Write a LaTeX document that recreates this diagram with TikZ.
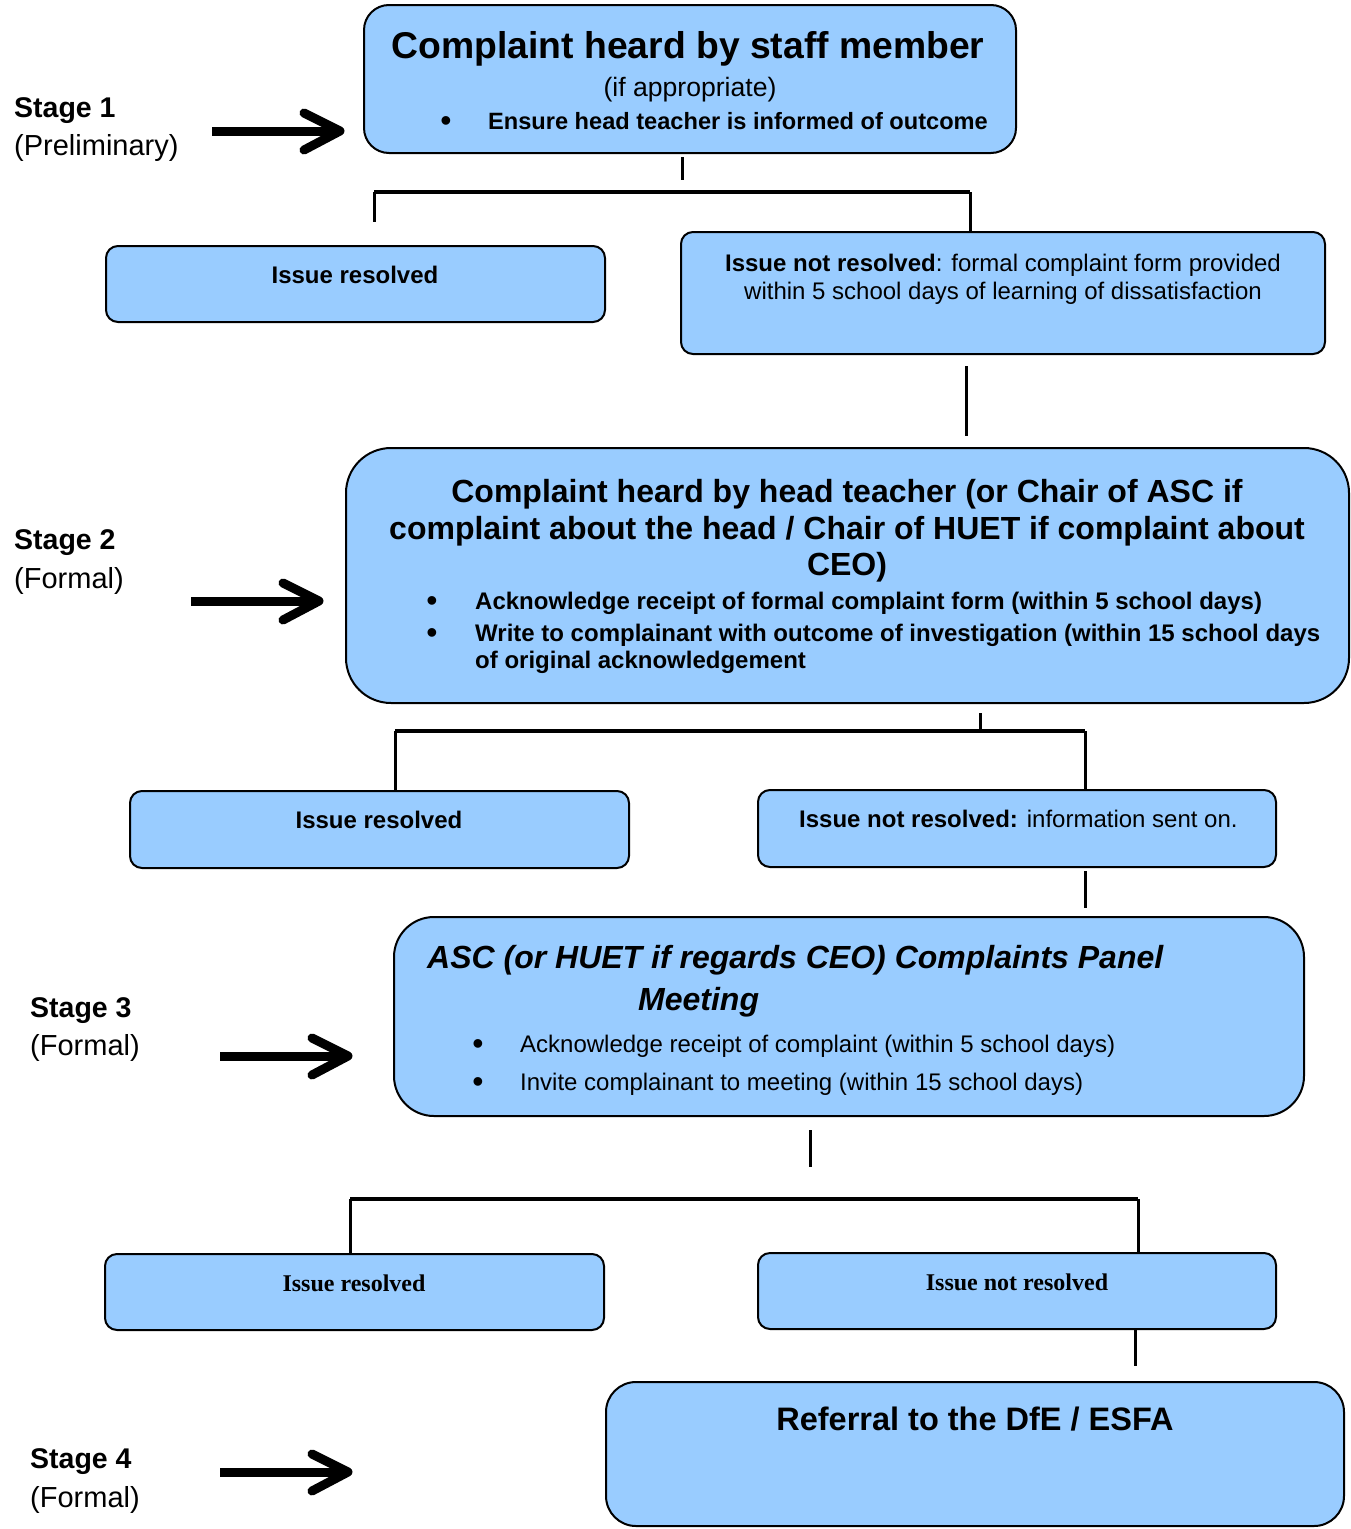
\documentclass[tikz,border=0pt]{standalone}
\usepackage{fontspec}
\setmainfont{Liberation Sans}
\newfontfamily\timesfont{Liberation Serif}
\definecolor{boxblue}{HTML}{99CCFF}
\begin{document}
\begin{tikzpicture}[x=1pt,y=-1pt,
  box/.style={draw=black, line width=2pt, fill=boxblue, inner sep=0pt, rounded corners=12pt},
  conn/.style={line width=3pt},
  barline/.style={line width=4pt},
  txt/.style={inner sep=0pt, anchor=base},
  txtw/.style={inner sep=0pt, anchor=base west},
  bulletdot/.style={inner sep=0pt, anchor=base, font=\fontsize{32}{34}\selectfont},
  stagebf/.style={txtw, font=\fontsize{28.5}{30}\selectfont\bfseries},
  stagerg/.style={txtw, font=\fontsize{29}{30}\selectfont},
  smallbf/.style={txt, font=\fontsize{24}{26}\selectfont\bfseries},
  smallrg/.style={txt, font=\fontsize{24}{26}\selectfont},
  arrowpart/.style={line width=9pt, line cap=round, line join=round},
  stagearr/.pic={
    \draw[arrowpart, line cap=butt] (0,0) -- (124,0);
    \draw[arrowpart] (92,-18) -- (128,0) -- (92,19);
  }]
\useasboundingbox (0,0) rectangle (1351,1529);

% ---------- Stage labels and arrows ----------
\node[stagebf] (s1) at (14,117) {Stage 1};
\node[stagerg] (s1b) at (14,155) {(Preliminary)};
\pic at (212,131) {stagearr};

\node[stagebf] (s2) at (14,549) {Stage 2};
\node[stagerg] (s2b) at (14,588) {(Formal)};
\pic at (191,601) {stagearr};

\node[stagebf] (s3) at (30,1017) {Stage 3};
\node[stagerg] (s3b) at (30,1055) {(Formal)};
\pic at (220,1056) {stagearr};

\node[stagebf] (s4) at (30,1468) {Stage 4};
\node[stagerg] (s4b) at (30,1507) {(Formal)};
\pic at (220,1472) {stagearr};

% ---------- Boxes ----------
\node[box, rounded corners=25pt, minimum width=652pt, minimum height=148pt] (A) at (690,79) {};
\node[box, minimum width=499pt, minimum height=76pt] (B1) at (355.5,284) {};
\node[box, minimum width=644pt, minimum height=122pt] (B2) at (1003,293) {};
\node[box, rounded corners=45pt, minimum width=1003pt, minimum height=255pt] (C) at (847.5,575.5) {};
\node[box, minimum width=499pt, minimum height=77pt] (D1) at (379.5,829.5) {};
\node[box, minimum width=518pt, minimum height=77pt] (D2) at (1017,828.5) {};
\node[box, rounded corners=40pt, minimum width=910pt, minimum height=199pt] (E) at (849,1016.5) {};
\node[box, minimum width=499pt, minimum height=76pt] (F1) at (354.5,1292) {};
\node[box, minimum width=518pt, minimum height=76pt] (F2) at (1017,1291) {};
\node[box, rounded corners=30pt, minimum width=738pt, minimum height=144pt] (G) at (975,1454) {};

% ---------- Box texts ----------
\node[txt, font=\fontsize{37.3}{40}\selectfont\bfseries] (Atitle) at (688,58) {Complaint heard by staff member};
\node[txt, font=\fontsize{26.6}{28}\selectfont] (Asub) at (690,96) {(if appropriate)};
\node[bulletdot] (Abul) at (446,131) {•};
\node[txtw, font=\fontsize{23.6}{25}\selectfont\bfseries] (Aitem) at (488,129) {Ensure head teacher is informed of outcome};

\node[smallbf] (B1t) at (355,283) {Issue resolved};
\node[smallrg] (B2t1) at (1003,271) {\textbf{Issue not resolved}: formal complaint form provided};
\node[smallrg] (B2t2) at (1003,299) {within 5 school days of learning of dissatisfaction};

\begin{scope}[every node/.style={txt, font=\fontsize{32}{34}\selectfont\bfseries}]
\node (Ct1) at (847,502) {Complaint heard by head teacher (or Chair of ASC if};
\node (Ct2) at (847,539) {complaint about the head / Chair of HUET if complaint about};
\node (Ct3) at (847,575) {CEO)};
\end{scope}
\node[bulletdot] (Cb1) at (432,611) {•};
\node[bulletdot] (Cb2) at (432,643) {•};
\begin{scope}[every node/.style={txtw, font=\fontsize{24}{26}\selectfont\bfseries}]
\node (Ci1) at (475,609) {Acknowledge receipt of formal complaint form (within 5 school days)};
\node (Ci2) at (475,641) {Write to complainant with outcome of investigation (within 15 school days};
\node (Ci3) at (475,668) {of original acknowledgement};
\end{scope}

\node[smallbf] (D1t) at (379,828) {Issue resolved};
\node[smallrg, anchor=base west] (D2t) at (799,827) {\textbf{Issue not resolved:} information sent on.};

\begin{scope}[every node/.style={txtw, font=\fontsize{32}{34}\selectfont\bfseries\itshape}]
\node (Et1) at (427,968) {ASC (or HUET if regards CEO) Complaints Panel};
\node (Et2) at (638,1010) {Meeting};
\end{scope}
\node[bulletdot] (Eb1) at (478,1054) {•};
\node[bulletdot] (Eb2) at (478,1092) {•};
\begin{scope}[every node/.style={txtw, font=\fontsize{24}{26}\selectfont}]
\node (Ei1) at (520,1052) {Acknowledge receipt of complaint (within 5 school days)};
\node (Ei2) at (520,1090) {Invite complainant to meeting (within 15 school days)};
\end{scope}

\node[txt, font=\fontsize{24}{26}\timesfont\bfseries] (F1t) at (354,1291) {Issue resolved};
\node[txt, font=\fontsize{24}{26}\timesfont\bfseries] (F2t) at (1017,1290) {Issue not resolved};

\node[txt, font=\fontsize{32.5}{34}\selectfont\bfseries] (Gt) at (975,1430) {Referral to the DfE / ESFA};

% ---------- Connectors ----------
\coordinate (a1) at (682,157);
\coordinate (a2) at (682,180);
\coordinate (h1l) at (374,192);
\coordinate (h1r) at (970,192);
\coordinate (h1ld) at (374,222);
\draw[conn] (a1) -- (a2);
\draw[barline] (h1l) -- (h1r);
\draw[conn] (h1l) -- (h1ld);
\draw[conn] (h1r) -- (h1r |- B2.north);

\coordinate (b1) at (966,366);
\coordinate (b2) at (966,436);
\draw[conn] (b1) -- (b2);

\coordinate (c1) at (980,713);
\coordinate (h2l) at (395,731);
\coordinate (h2r) at (1085,731);
\draw[conn] (c1) -- (c1 |- h2l);
\draw[barline] (h2l) -- (h2r);
\draw[conn] (h2l) -- (h2l |- D1.north);
\draw[conn] (h2r) -- (h2r |- D2.north);

\coordinate (d1) at (1085,871);
\coordinate (d2) at (1085,908);
\draw[conn] (d1) -- (d2);

\coordinate (e1) at (810,1130);
\coordinate (e2) at (810,1167);
\draw[conn] (e1) -- (e2);

\coordinate (h3l) at (350,1199);
\coordinate (h3r) at (1138,1199);
\draw[barline] (h3l) -- (h3r);
\draw[conn] (h3l) -- (h3l |- F1.north);
\draw[conn] (h3r) -- (h3r |- F2.north);

\coordinate (f1) at (1135,1366);
\draw[conn] (F2.south -| f1) -- (f1);
\end{tikzpicture}
\end{document}
